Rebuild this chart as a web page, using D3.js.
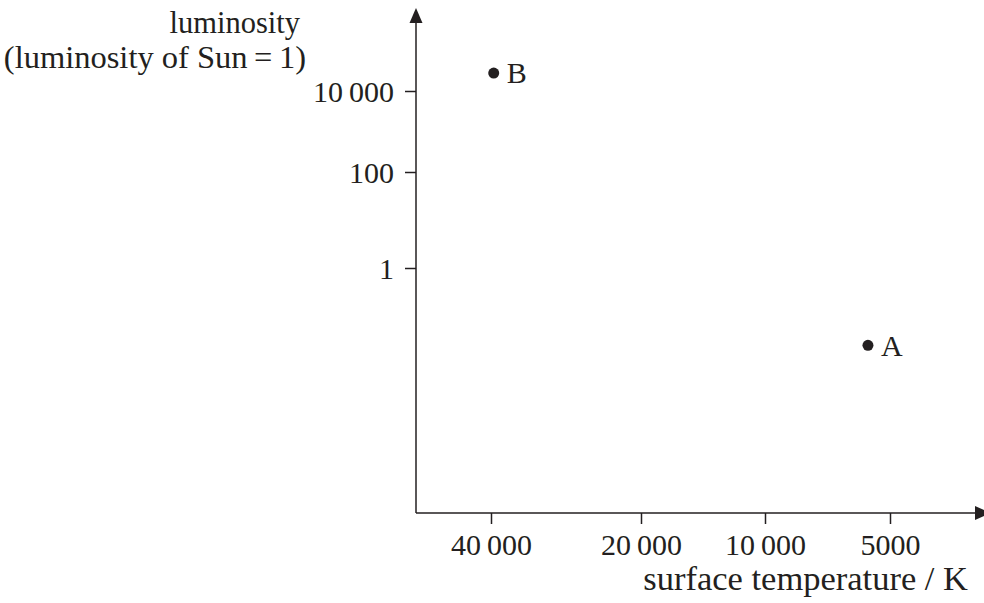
<!DOCTYPE html>
<html>
<head>
<meta charset="utf-8">
<script src="https://cdn.jsdelivr.net/npm/d3@7"></script>
<style>
  html, body { margin: 0; padding: 0; background: #fff; }
  svg { display: block; }
  text { font-family: "Liberation Serif", "Times New Roman", serif; fill: #231f20; }
</style>
</head>
<body>
<svg id="chart" width="984" height="603"></svg>
<script>
// ---- data ----
const xTicks = [40000, 20000, 10000, 5000];
const xTickLabels = ["40\u2009000", "20\u2009000", "10\u2009000", "5000"];
const yTicks = [1, 100, 10000];
const yTickLabels = ["1", "100", "10\u2009000"];
const starNames = ["A", "B"];
const starTemps = [5650, 39500];
const starLums = [0.0245, 27800];
const xTitle = "surface temperature / K";
const yTitle = ["luminosity", "(luminosity of Sun\u2009=\u20091)"];

// ---- layout ----
const ink = "#231f20";
const fontSize = 30;
const originX = 416, originY = 513;
const svg = d3.select("#chart");

// piecewise log scales (the printed axes are not evenly spaced)
const x = d3.scaleLog().domain(xTicks).range([491, 641, 765, 890]);
const y = d3.scaleLog().domain(yTicks).range([268, 172, 91]);

// axes ticks
const yAxis = d3.axisLeft(y).tickValues(yTicks).tickSize(11).tickPadding(11)
  .tickFormat((d, i) => yTickLabels[i]);
const gy = svg.append("g").attr("transform", `translate(${originX},0)`).call(yAxis);

const xAxis = d3.axisBottom(x).tickValues(xTicks).tickSize(11).tickPadding(10)
  .tickFormat((d, i) => xTickLabels[i]);
const gx = svg.append("g").attr("transform", `translate(0,${originY})`).call(xAxis);

[gx, gy].forEach(g => {
  g.select(".domain").remove();
  g.attr("font-family", null).attr("font-size", null);
  g.selectAll(".tick line").attr("stroke", ink).attr("stroke-width", 1.5);
  g.selectAll(".tick text").attr("fill", ink)
    .style("font-family", '"Liberation Serif", serif')
    .style("font-size", fontSize + "px");
});
gy.selectAll(".tick text").attr("dy", "0.34em");

// axis lines with arrows
svg.append("line").attr("x1", originX).attr("y1", originY).attr("x2", originX).attr("y2", 20)
  .attr("stroke", ink).attr("stroke-width", 1.5);
svg.append("path").attr("d", `M${originX},8 L${originX - 6.5},23 L${originX + 6.5},23 Z`).attr("fill", ink);
svg.append("line").attr("x1", originX).attr("y1", originY).attr("x2", 978).attr("y2", originY)
  .attr("stroke", ink).attr("stroke-width", 1.5);
svg.append("path").attr("d", `M975,${originY - 7} L991,${originY} L975,${originY + 7} Z`).attr("fill", ink);

// titles
svg.append("text").attr("x", 968).attr("y", 590).attr("text-anchor", "end")
  .style("font-size", "34.5px").text(xTitle);
svg.append("text").attr("x", 300).attr("y", 33).attr("text-anchor", "end")
  .style("font-size", "30.5px").text(yTitle[0]);
svg.append("text").attr("x", 306).attr("y", 68).attr("text-anchor", "end")
  .style("font-size", "32.5px").text(yTitle[1]);

// stars
const stars = starNames.map((n, i) => ({ name: n, t: starTemps[i], l: starLums[i] }));
const g = svg.append("g");
g.selectAll("circle").data(stars).join("circle")
  .attr("cx", d => x(d.t)).attr("cy", d => y(d.l)).attr("r", 5.5).attr("fill", ink);
g.selectAll("text").data(stars).join("text")
  .attr("x", d => x(d.t) + 13).attr("y", d => y(d.l)).attr("dy", "0.34em")
  .style("font-size", fontSize + "px").text(d => d.name);
</script>
</body>
</html>
